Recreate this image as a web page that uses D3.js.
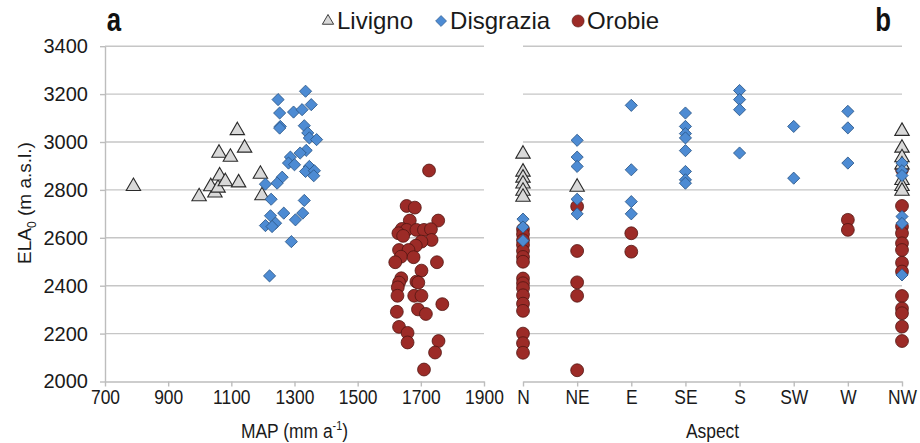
<!DOCTYPE html>
<html>
<head>
<meta charset="utf-8">
<script src="https://cdn.jsdelivr.net/npm/d3@7"></script>
<style>
  html, body { margin: 0; padding: 0; background: #fff; }
  svg { display: block; }
  text { font-family: "Liberation Sans", Arial, Helvetica, sans-serif; }
</style>
</head>
<body>
<svg id="chart" width="920" height="443"></svg>
<script>
// ---------- data ----------
const seriesNames = ["Livigno", "Disgrazia", "Orobie"];
const elaTicks = [2000, 2200, 2400, 2600, 2800, 3000, 3200, 3400];
const mapTicks = [700, 900, 1100, 1300, 1500, 1700, 1900];
const aspects = ["N", "NE", "E", "SE", "S", "SW", "W", "NW"];

// panel a: mean annual precipitation (mm/yr) vs ELA0 (m a.s.l.)
const livignoMAP = [790, 998, 1048, 1035, 1058, 1063, 1081, 1123, 1061, 1097, 1119, 1142, 1192, 1197];
const livignoELA = [2815, 2772, 2788, 2814, 2808, 2859, 2835, 2830, 2954, 2937, 3048, 2975, 2866, 2776];

const disgraziaMAP = [1335, 1248, 1353, 1253, 1297, 1324, 1255, 1253, 1331, 1342, 1347, 1370,
                      1337, 1318, 1287, 1281, 1300, 1347, 1335, 1363, 1361, 1261, 1245, 1208,
                      1226, 1331, 1266, 1224, 1326, 1303, 1240, 1208, 1229, 1290, 1221];
const disgraziaELA = [3212, 3177, 3156, 3121, 3125, 3135, 3065, 3058, 3068, 3038, 3017, 3010,
                      2965, 2954, 2937, 2912, 2905, 2898, 2877, 2880, 2859, 2853, 2828, 2824,
                      2761, 2756, 2703, 2692, 2703, 2675, 2661, 2651, 2647, 2584, 2441];

const orobieMAP = [1726, 1655, 1681, 1755, 1665, 1640, 1655, 1686, 1710, 1732, 1629, 1644, 1734,
                   1702, 1684, 1631, 1661, 1637, 1677, 1619, 1751, 1702, 1638, 1631, 1686, 1692,
                   1627, 1626, 1679, 1702, 1768, 1624, 1691, 1716, 1631, 1658, 1658, 1756, 1745, 1710];
const orobieELA = [2881, 2733, 2726, 2672, 2672, 2637, 2633, 2633, 2633, 2636, 2619, 2608, 2591,
                   2584, 2567, 2549, 2549, 2521, 2519, 2498, 2498, 2463, 2431, 2413, 2417, 2413,
                   2393, 2358, 2358, 2358, 2323, 2291, 2301, 2282, 2228, 2203, 2163, 2169, 2121, 2050];

// panel b: glacier aspect vs ELA0 (m a.s.l.)
const livignoAspect = ["N", "N", "N", "N", "N", "N", "NE", "NW", "NW", "NW", "NW", "NW", "NW", "NW"];
const livignoAspectELA = [2950, 2875, 2850, 2825, 2795, 2770, 2812, 3045, 2975, 2935, 2905, 2840, 2815, 2795];

const disgraziaAspect = ["N", "N", "N", "NE", "NE", "NE", "NE", "NE", "E", "E", "E", "E",
                         "SE", "SE", "SE", "SE", "SE", "SE", "SE", "SE", "S", "S", "S", "S",
                         "SW", "SW", "W", "W", "W", "NW", "NW", "NW", "NW", "NW", "NW"];
const disgraziaAspectELA = [2678, 2645, 2588, 3007, 2937, 2898, 2761, 2700, 3153, 2884, 2751, 2700,
                            3121, 3065, 3035, 3017, 2964, 2877, 2842, 2828, 3215, 3177, 3135, 2954,
                            3065, 2849, 3128, 3059, 2912, 2912, 2880, 2860, 2689, 2660, 2445];

const orobieAspect = ["N", "N", "N", "N", "N", "N", "N", "N", "N", "N", "N", "N", "N", "N", "N", "N",
                      "NE", "NE", "NE", "NE", "NE", "E", "E", "W", "W",
                      "NW", "NW", "NW", "NW", "NW", "NW", "NW", "NW", "NW", "NW", "NW", "NW", "NW"];
const orobieAspectELA = [2635, 2615, 2590, 2570, 2545, 2520, 2500, 2430, 2410, 2390, 2360, 2325, 2295, 2200, 2160, 2120,
                         2731, 2545, 2414, 2358, 2047, 2619, 2542, 2675, 2633,
                         2885, 2733, 2647, 2619, 2577, 2549, 2496, 2459, 2357, 2305, 2285, 2229, 2169];

// ---------- styles ----------
const styles = {
  Livigno:   { type: d3.symbolTriangle, size: 90, fill: "#d9d9d9", stroke: "#2a2a2a", rot: 0 },
  Disgrazia: { type: d3.symbolSquare,   size: 74, fill: "#4d8bd3", stroke: "#2a5686", rot: 45 },
  Orobie:    { type: d3.symbolCircle,   size: 130, fill: "#9c2b27", stroke: "#521512", rot: 0 }
};
const gridColor = "#c6c6c6";
const axisColor = "#bdbdbd";
const textColor = "#1a1a1a";
const condense = 0.83;   // horizontal squeeze for the narrow axis lettering

const svg = d3.select("#chart");

// ---------- scales ----------
const y = d3.scaleLinear().domain([2000, 3400]).range([381.5, 46.2]);
const xMap = d3.scaleLinear().domain([700, 1900]).range([105, 484]);
const xAsp = d3.scalePoint().domain(aspects).range([523, 902]);

// ---------- grid ----------
function grid(x0, x1) {
  svg.append("g")
    .selectAll("line")
    .data(elaTicks.filter(t => t > 2000))
    .join("line")
    .attr("x1", x0).attr("x2", x1)
    .attr("y1", d => y(d)).attr("y2", d => y(d))
    .attr("stroke", gridColor).attr("stroke-width", 1.4);
}
grid(xMap(700), xMap(1900));
grid(xAsp("N"), xAsp("NW"));

// ---------- axes ----------
function styleAxis(g) {
  g.select(".domain").attr("stroke", axisColor).attr("stroke-width", 1.4);
  g.selectAll(".tick line").attr("stroke", axisColor).attr("stroke-width", 1.4);
  g.selectAll(".tick text").attr("fill", textColor);
}

svg.append("g")
  .attr("transform", `translate(${xMap(700)},0)`)
  .call(d3.axisLeft(y).tickValues(elaTicks).tickSize(5).tickSizeOuter(0).tickPadding(12).tickFormat(d3.format("d")))
  .call(styleAxis)
  .call(g => g.selectAll(".tick text").attr("font-size", 20).attr("font-family", null));

function narrowTicks(g) {
  g.selectAll(".tick text")
    .attr("font-size", 21).attr("font-family", null)
    .attr("transform", `scale(${condense},1)`);
}

svg.append("g")
  .attr("transform", `translate(0,${y(2000)})`)
  .call(d3.axisBottom(xMap).tickValues(mapTicks).tickSize(5).tickSizeOuter(0).tickPadding(3).tickFormat(d3.format("d")))
  .call(styleAxis)
  .call(narrowTicks);

svg.append("g")
  .attr("transform", `translate(0,${y(2000)})`)
  .call(d3.axisBottom(xAsp).tickSize(5).tickSizeOuter(0).tickPadding(3))
  .call(styleAxis)
  .call(narrowTicks);

// ---------- markers ----------
function plot(name, xs, ys, xScale) {
  const s = styles[name];
  const sym = d3.symbol().type(s.type).size(s.size);
  svg.append("g").attr("class", "series-" + name)
    .selectAll("path")
    .data(xs.map((v, i) => [v, ys[i]]))
    .join("path")
    .attr("d", sym)
    .attr("transform", d => `translate(${xScale(d[0])},${y(d[1])}) rotate(${s.rot})`)
    .attr("fill", s.fill)
    .attr("stroke", s.stroke)
    .attr("stroke-width", name === "Livigno" ? 1.1 : 0.8);
}
plot("Orobie", orobieMAP, orobieELA, xMap);
plot("Livigno", livignoMAP, livignoELA, xMap);
plot("Disgrazia", disgraziaMAP, disgraziaELA, xMap);
plot("Orobie", orobieAspect, orobieAspectELA, xAsp);
plot("Livigno", livignoAspect, livignoAspectELA, xAsp);
plot("Disgrazia", disgraziaAspect, disgraziaAspectELA, xAsp);

// ---------- axis titles ----------
const xTitle = svg.append("g")
  .attr("transform", `translate(${(xMap(700) + xMap(1900)) / 2},438) scale(${condense},1)`)
  .append("text")
  .attr("text-anchor", "middle").attr("font-size", 21).attr("fill", textColor);
xTitle.append("tspan").text("MAP (mm a");
xTitle.append("tspan").text("-1").attr("font-size", 13).attr("dy", -8);
xTitle.append("tspan").text(")").attr("dy", 8);

svg.append("g")
  .attr("transform", `translate(${(xAsp("N") + xAsp("NW")) / 2},438) scale(${condense},1)`)
  .append("text")
  .attr("text-anchor", "middle").attr("font-size", 21).attr("fill", textColor)
  .text("Aspect");

const yTitle = svg.append("text")
  .attr("transform", "translate(31,203) rotate(-90)")
  .attr("text-anchor", "middle").attr("font-size", 19).attr("fill", textColor);
yTitle.append("tspan").text("ELA");
yTitle.append("tspan").text("0").attr("font-size", 12).attr("dy", 5);
yTitle.append("tspan").text(" (m a.s.l.)").attr("dy", -5);

// ---------- panel letters ----------
[["a", 114], ["b", 883]].forEach(([letter, x]) => {
  svg.append("g")
    .attr("transform", `translate(${x},31) scale(0.78,1)`)
    .append("text")
    .attr("text-anchor", "middle")
    .attr("font-size", 33).attr("font-weight", "bold").attr("fill", "#111")
    .text(letter);
});

// ---------- legend ----------
const legend = svg.append("g").attr("transform", "translate(0,21)");
let lx = 322;
seriesNames.forEach(name => {
  const s = styles[name];
  const sym = d3.symbol().type(s.type).size(name === "Livigno" ? 55 : (name === "Orobie" ? 115 : 60));
  legend.append("path")
    .attr("d", sym)
    .attr("transform", `translate(${lx + 6},0) rotate(${s.rot})`)
    .attr("fill", s.fill).attr("stroke", s.stroke)
    .attr("stroke-width", name === "Livigno" ? 0.9 : 0.6);
  const t = legend.append("text")
    .attr("x", lx + 15).attr("y", 8)
    .attr("font-size", 24).attr("fill", textColor).text(name);
  lx += 15 + t.node().getComputedTextLength() + 22;
});
</script>
</body>
</html>
